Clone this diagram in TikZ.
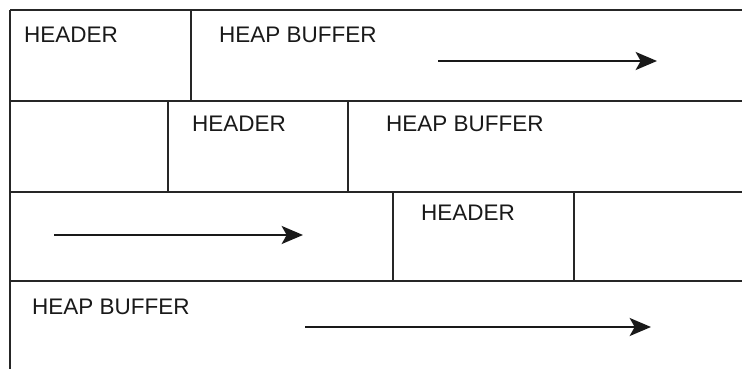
\documentclass[tikz,border=0pt]{standalone}
\usepackage{fontspec}
\setmainfont{Liberation Sans}
\usetikzlibrary{arrows.meta}

\begin{document}
\begin{tikzpicture}[x=0.03cm, y=-0.03cm]
    \tikzset{
        rule/.style={
            draw=black!85, line width=1.8pt
        },
        cell/.style={
            anchor=base west, inner sep=0pt,
            font=\fontsize{19.2}{23}\selectfont, text=black!90
        },
        flow/.style={
            draw=black!90, line width=1.8pt,
            -{Stealth[length=0.64cm, width=0.54cm, inset=0.15cm]}
        },
    }
    \useasboundingbox (0,0) rectangle (742,369);

    % ==== Rows ====
    \draw[rule] (10,10) -- (742,10);
    \draw[rule] (10,101) -- (742,101);
    \draw[rule] (10,192) -- (742,192);
    \draw[rule] (10,281) -- (742,281);
    \draw[rule] (10,10) -- (10,369);

    % ==== Cell borders ====
    \draw[rule] (191,10) -- (191,101);
    \draw[rule] (168,101) -- (168,192);
    \draw[rule] (348,101) -- (348,192);
    \draw[rule] (393,192) -- (393,281);
    \draw[rule] (574,192) -- (574,281);

    % ==== Labels ====
    \node[cell] (hdrA) at (24,43) {HEADER};
    \node[cell] (bufA) at (219,43) {HEAP BUFFER};
    \node[cell] (hdrB) at (192,132) {HEADER};
    \node[cell] (bufB) at (386,132) {HEAP BUFFER};
    \node[cell] (hdrC) at (421,221) {HEADER};
    \node[cell] (bufD) at (32,315) {HEAP BUFFER};

    % ==== Growth arrows ====
    \coordinate (flowAs) at (438,61);
    \coordinate (flowAe) at (657,61);
    \coordinate (flowCs) at (54,235);
    \coordinate (flowCe) at (303,235);
    \coordinate (flowDs) at (305,327);
    \coordinate (flowDe) at (651,327);
    \draw[flow] (flowAs) -- (flowAe);
    \draw[flow] (flowCs) -- (flowCe);
    \draw[flow] (flowDs) -- (flowDe);

\end{tikzpicture}
\end{document}
